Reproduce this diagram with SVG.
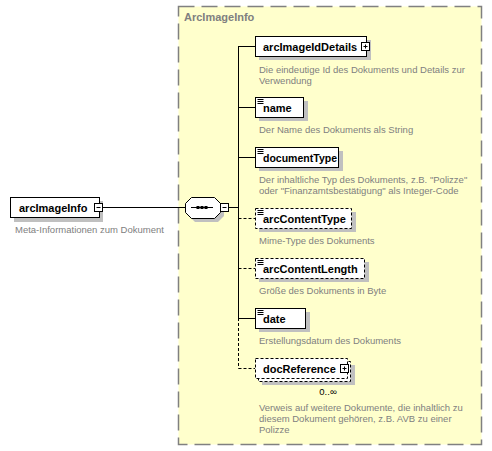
<svg xmlns="http://www.w3.org/2000/svg" width="492" height="451" viewBox="0 0 492 451">
<style>
.lbl{font-family:"Liberation Sans",Arial,sans-serif;font-weight:bold;font-size:11px;fill:#000}
.desc{font-family:"Liberation Sans",Arial,sans-serif;font-size:9.5px;fill:#808080}
.title{font-family:"Liberation Sans",Arial,sans-serif;font-weight:bold;font-size:11px;fill:#808080}
.box{fill:#fff;stroke:#000;stroke-width:1}
.opt{fill:#fff;stroke:#000;stroke-width:1;stroke-dasharray:3,2}
.shd{fill:#c0c0c0}
.ln{stroke:#000;stroke-width:1;fill:none}
.dl{stroke:#000;stroke-width:1;fill:none;stroke-dasharray:3,2}
.ico{stroke:#000;stroke-width:1}
</style>
<defs>
<g id="simple"><path class="ico" d="M2.5 2.5h6M2.5 4.5h6M2.5 6.5h6" fill="none"/></g>
<g id="plus"><rect x="0.5" y="0.5" width="8" height="8" class="box"/><path class="ico" d="M2.5 4.5h4M4.5 2.5v4"/></g>
<g id="minus"><rect x="0.5" y="0.5" width="8" height="8" class="box"/><path class="ico" d="M2.5 4.5h4"/></g>
</defs>

<g id="container">
<rect x="178.5" y="6.5" width="303" height="438" fill="#ffffcc" stroke="#808080" stroke-width="1.5" stroke-dasharray="16,7"/>
<text class="title" x="184" y="21">ArcImageInfo</text>
</g>

<g id="connectors">
<path class="ln" d="M103 207.5H185"/>
<path class="ln" d="M229 207.5H238.5"/>
<path class="ln" d="M238.5 46V318"/>
<path class="dl" d="M238.5 318V368.5"/>
<path class="ln" d="M238.5 46.5H255"/>
<path class="ln" d="M238.5 107.5H255"/>
<path class="ln" d="M238.5 157.5H255"/>
<path class="dl" d="M238.5 218.5H255"/>
<path class="dl" d="M238.5 268.5H255"/>
<path class="ln" d="M238.5 318.5H255"/>
<path class="dl" d="M238.5 368.5H255"/>
</g>

<g id="arcImageInfo">
<rect class="shd" x="14" y="201" width="89" height="21"/>
<rect class="box" x="10.5" y="197.5" width="89" height="20"/>
<text class="lbl" x="19" y="212">arcImageInfo</text>
<use href="#minus" x="94" y="203"/>
<text class="desc" x="15" y="233">Meta-Informationen zum Dokument</text>
</g>

<g id="sequence">
<polygon class="shd" points="189,207 195,201 218,201 224,207 224,216 218,222 195,222 189,216"/>
<polygon class="box" points="185.5,203.5 191.5,197.5 214.5,197.5 220.5,203.5 220.5,212.5 214.5,218.5 191.5,218.5 185.5,212.5"/>
<path class="ln" d="M191 207.5H213"/>
<rect x="196.5" y="206" width="3" height="3" fill="#000"/>
<rect x="200.5" y="206" width="3" height="3" fill="#000"/>
<rect x="204.5" y="206" width="3" height="3" fill="#000"/>
<use href="#minus" x="220" y="203"/>
</g>

<g id="arcImageIdDetails">
<rect class="shd" x="259" y="40" width="112" height="20"/>
<rect class="box" x="255.5" y="36.5" width="111" height="20"/>
<text class="lbl" x="263" y="51">arcImageIdDetails</text>
<use href="#plus" x="361" y="42"/>
<text class="desc" x="259" y="73">Die eindeutige Id des Dokuments und Details zur</text>
<text class="desc" x="259" y="84">Verwendung</text>
</g>

<g id="name">
<rect class="shd" x="259" y="101" width="49" height="20"/>
<rect class="box" x="255.5" y="97.5" width="48" height="20"/>
<use href="#simple" x="255" y="97"/>
<text class="lbl" x="263" y="112">name</text>
<text class="desc" x="259" y="133">Der Name des Dokuments als String</text>
</g>

<g id="documentType">
<rect class="shd" x="259" y="151" width="84" height="20"/>
<rect class="box" x="255.5" y="147.5" width="83" height="20"/>
<use href="#simple" x="255" y="147"/>
<text class="lbl" x="263" y="162" textLength="74" lengthAdjust="spacingAndGlyphs">documentType</text>
<text class="desc" x="259" y="183">Der inhaltliche Typ des Dokuments, z.B. "Polizze"</text>
<text class="desc" x="259" y="194">oder "Finanzamtsbestätigung" als Integer-Code</text>
</g>

<g id="arcContentType">
<rect class="shd" x="259" y="212" width="97" height="20"/>
<rect class="opt" x="255.5" y="208.5" width="96" height="20"/>
<use href="#simple" x="255" y="208"/>
<text class="lbl" x="263" y="223">arcContentType</text>
<text class="desc" x="259" y="244">Mime-Type des Dokuments</text>
</g>

<g id="arcContentLength">
<rect class="shd" x="259" y="262" width="110" height="20"/>
<rect class="opt" x="255.5" y="258.5" width="109" height="20"/>
<use href="#simple" x="255" y="258"/>
<text class="lbl" x="263" y="273">arcContentLength</text>
<text class="desc" x="259" y="294">Größe des Dokuments in Byte</text>
</g>

<g id="date">
<rect class="shd" x="259" y="312" width="51" height="20"/>
<rect class="box" x="255.5" y="308.5" width="50" height="20"/>
<use href="#simple" x="255" y="308"/>
<text class="lbl" x="263" y="323">date</text>
<text class="desc" x="259" y="344">Erstellungsdatum des Dokuments</text>
</g>

<g id="docReference">
<rect class="shd" x="262" y="365" width="93" height="20"/>
<rect class="opt" x="258.5" y="361.5" width="92" height="20"/>
<rect class="opt" x="255.5" y="358.5" width="92" height="20"/>
<text class="lbl" x="263" y="373">docReference</text>
<use href="#plus" x="340" y="364"/>
<text class="desc" x="328" y="395" text-anchor="middle" style="fill:#000">0..∞</text>
<text class="desc" x="259" y="411">Verweis auf weitere Dokumente, die inhaltlich zu</text>
<text class="desc" x="259" y="422">diesem Dokument gehören, z.B. AVB zu einer</text>
<text class="desc" x="259" y="433">Polizze</text>
</g>
</svg>
